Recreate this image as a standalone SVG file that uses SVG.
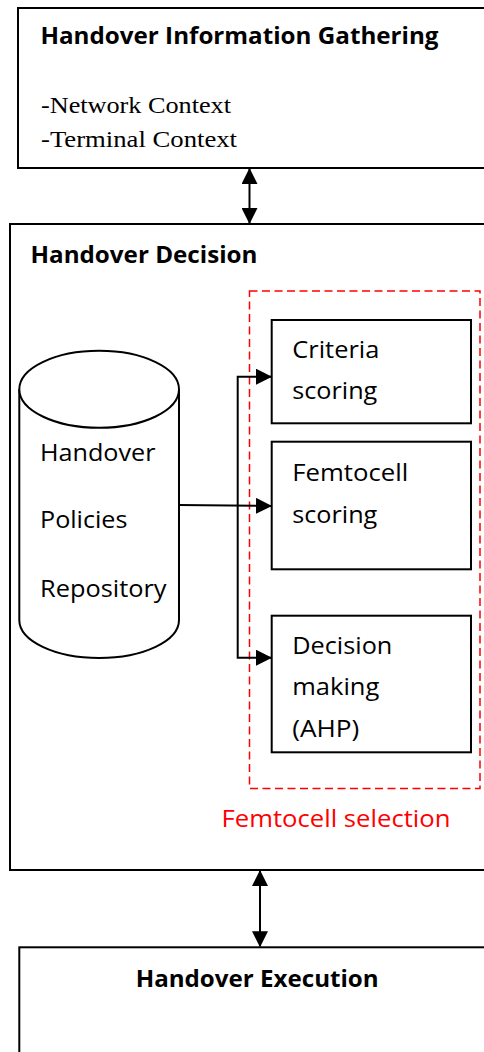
<svg xmlns="http://www.w3.org/2000/svg" width="484" height="1052" viewBox="0 0 484 1052">
<style>
.box{fill:#fff;stroke:#000;stroke-width:2}
.dash{fill:none;stroke:#f00;stroke-width:1.5;stroke-dasharray:8 4.5}
.line{fill:none;stroke:#000;stroke-width:2}
.title{font-family:"Open Sans",sans-serif;font-weight:bold;font-size:24px;fill:#000}
.body{font-family:"Open Sans",sans-serif;font-size:24px;fill:#000}
.serif{font-family:"Liberation Serif",serif;font-size:24px;fill:#000}
.red{font-family:"Open Sans",sans-serif;font-size:24px;fill:#f00}
</style>
<defs>
<marker id="ah" markerUnits="userSpaceOnUse" markerWidth="16" markerHeight="16" viewBox="0 0 16 16" refX="15" refY="8" orient="auto-start-reverse">
<path d="M0,0 L16,8 L0,16 Z" fill="#000"/>
</marker>
</defs>
<g id="gathering">
<rect class="box" x="18" y="8" width="480" height="160"/>
<text class="title" x="40.5" y="43.5" textLength="398" lengthAdjust="spacingAndGlyphs">Handover Information Gathering</text>
<text class="serif" x="41" y="113" textLength="190" lengthAdjust="spacingAndGlyphs">-Network Context</text>
<text class="serif" x="41" y="147" textLength="196" lengthAdjust="spacingAndGlyphs">-Terminal Context</text>
</g>
<g id="decision">
<rect class="box" x="10" y="224" width="490" height="646"/>
<text class="title" x="30.5" y="262.5" textLength="227" lengthAdjust="spacingAndGlyphs">Handover Decision</text>
</g>
<g id="femtocell-selection">
<rect class="dash" x="249.5" y="291" width="230.5" height="497.5"/>
<text class="red" x="221.5" y="826.5" textLength="229" lengthAdjust="spacingAndGlyphs">Femtocell selection</text>
</g>
<g id="repository">
<path class="box" d="M19.3,389.3 L19.3,620 A79.85,38 0 0 0 179,620 L179,389.3"/>
<ellipse class="box" cx="99.15" cy="389.3" rx="79.85" ry="38.5"/>
<text class="body" x="40" y="460.5" textLength="115.5" lengthAdjust="spacingAndGlyphs">Handover</text>
<text class="body" x="40" y="528.3" textLength="87.5" lengthAdjust="spacingAndGlyphs">Policies</text>
<text class="body" x="40" y="596.7" textLength="126.5" lengthAdjust="spacingAndGlyphs">Repository</text>
</g>
<g id="criteria">
<rect class="box" x="271.7" y="320" width="199.3" height="103.3"/>
<text class="body" x="292.3" y="357.7" textLength="87" lengthAdjust="spacingAndGlyphs">Criteria</text>
<text class="body" x="292.3" y="398.5" textLength="85" lengthAdjust="spacingAndGlyphs">scoring</text>
</g>
<g id="femtocell-scoring">
<rect class="box" x="271.7" y="441.7" width="199.3" height="127.6"/>
<text class="body" x="292.3" y="480.7" textLength="116" lengthAdjust="spacingAndGlyphs">Femtocell</text>
<text class="body" x="292.3" y="522.7" textLength="85" lengthAdjust="spacingAndGlyphs">scoring</text>
</g>
<g id="decision-making">
<rect class="box" x="271.7" y="615.7" width="199.3" height="136.6"/>
<text class="body" x="292.3" y="654" textLength="100" lengthAdjust="spacingAndGlyphs">Decision</text>
<text class="body" x="292.3" y="695" textLength="87" lengthAdjust="spacingAndGlyphs">making</text>
<text class="body" x="292.3" y="736.7" textLength="67" lengthAdjust="spacingAndGlyphs">(AHP)</text>
</g>
<g id="execution">
<rect class="box" x="19.3" y="947.3" width="480" height="120"/>
<text class="title" x="135.7" y="986.7" textLength="243" lengthAdjust="spacingAndGlyphs">Handover Execution</text>
</g>
<g id="connectors">
<line class="line" x1="249.5" y1="169" x2="249.5" y2="223" marker-start="url(#ah)" marker-end="url(#ah)"/>
<line class="line" x1="260" y1="871" x2="260" y2="946.3" marker-start="url(#ah)" marker-end="url(#ah)"/>
<line class="line" x1="179" y1="505" x2="271" y2="506" marker-end="url(#ah)"/>
<polyline class="line" points="271,376.7 237.7,376.7 237.7,657.7 271,657.7" marker-start="url(#ah)" marker-end="url(#ah)"/>
</g>
</svg>
